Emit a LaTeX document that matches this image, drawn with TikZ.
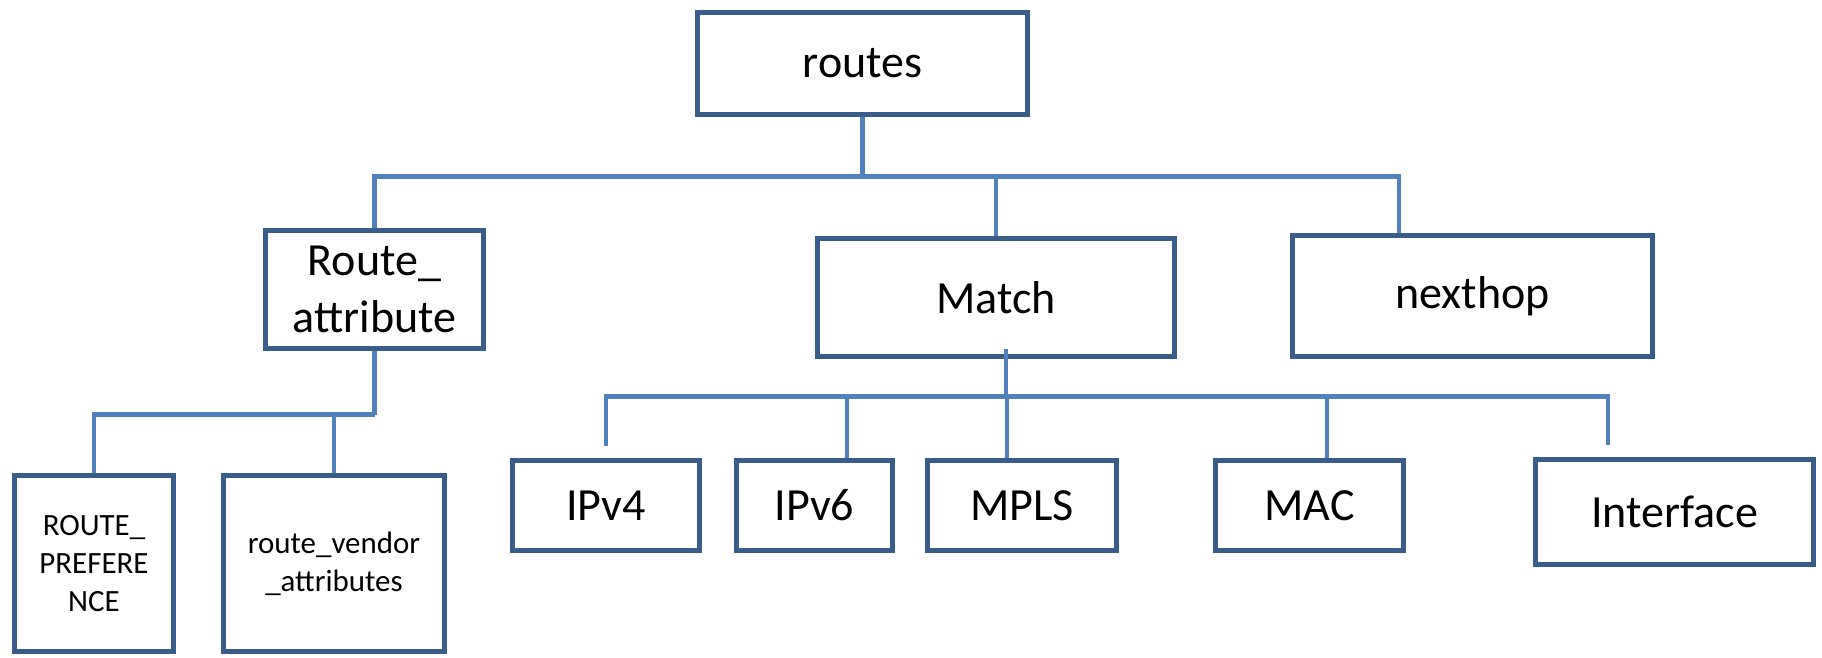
\documentclass[tikz,border=0pt]{standalone}
\usepackage{fontspec}
\setmainfont{Carlito}
\usetikzlibrary{positioning,backgrounds}
\definecolor{boxblue}{HTML}{385D8A}
\definecolor{linkblue}{HTML}{4F81BD}
\tikzset{
    routetree/.style={
        % Stile per i nodi (rettangolo)
        box/.style={draw=boxblue, fill=white, rectangle, align=center,
                    line width=1.5pt, inner sep=0pt,
                    font=\fontsize{13.1}{16}\selectfont},
        % Stile per le foglie con testo piccolo
        smallbox/.style={box, font=\fontsize{8.8}{10.8}\selectfont},
        % Stile per i collegamenti
        link/.style={draw=linkblue, line width=1.3pt}
    }
}
\begin{document}
\begin{tikzpicture}[routetree]
    \useasboundingbox (0,0) rectangle (18.22,6.57);
    \node[box, minimum width=3.30cm, minimum height=1.02cm] (routes) at (8.625,5.935) {routes};
    \node[box, minimum width=2.18cm, minimum height=1.18cm] (rattr) at (3.745,3.675) {Route\_\\attribute};
    \node[box, minimum width=3.57cm, minimum height=1.18cm] (match) at (9.96,3.595) {Match};
    \node[box, minimum width=3.60cm, minimum height=1.21cm] (nexthop) at (14.725,3.61) {nexthop};
    \node[smallbox, minimum width=1.59cm, minimum height=1.76cm] (rpref) at (0.94,0.935) {ROUTE\_\\PREFERE\\NCE};
    \node[smallbox, minimum width=2.21cm, minimum height=1.76cm] (rvendor) at (3.34,0.935) {route\_vendor\\\_attributes};
    \node[box, minimum width=1.87cm, minimum height=0.90cm] (ipv4) at (6.06,1.515) {IPv4};
    \node[box, minimum width=1.56cm, minimum height=0.90cm] (ipv6) at (8.145,1.515) {IPv6};
    \node[box, minimum width=1.89cm, minimum height=0.90cm] (mpls) at (10.22,1.515) {MPLS};
    \node[box, minimum width=1.88cm, minimum height=0.90cm] (mac) at (13.095,1.515) {MAC};
    \node[box, minimum width=2.78cm, minimum height=1.05cm] (iface) at (16.745,1.45) {Interface};

    \begin{scope}[on background layer]
        \draw[link] (routes.south) -- ++(0,-0.595) coordinate (bus1);
        \draw[link] (rattr.north) |- (bus1);
        \draw[link] (match.north) |- (bus1);
        \draw[link] ([xshift=-0.735cm]nexthop.north) |- (bus1);

        \draw[link] (rattr.south) -- ++(0,-0.635) coordinate (bus2);
        \draw[link] (rpref.north) |- (bus2);
        \draw[link] (rvendor.north) |- (bus2);
    \end{scope}

    \draw[link] ([xshift=0.1cm,yshift=0.1cm]match.south) -- ++(0,-0.475) coordinate (bus3);
    \begin{scope}[on background layer]
        \draw[link] ([yshift=0.12cm]ipv4.north) |- (bus3) -| ([xshift=-0.665cm,yshift=0.12cm]iface.north);
        \draw[link] ([xshift=0.325cm]ipv6.north) |- (bus3);
        \draw[link] ([xshift=-0.15cm]mpls.north) |- (bus3);
        \draw[link] ([xshift=0.175cm]mac.north) |- (bus3);
    \end{scope}
\end{tikzpicture}
\end{document}
